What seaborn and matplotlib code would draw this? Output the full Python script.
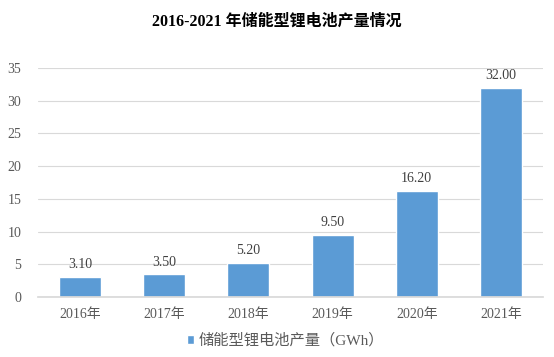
import matplotlib
matplotlib.use("Agg")
import matplotlib.pyplot as plt
import seaborn as sns
import pandas as pd

# %% data
years = ["2016年", "2017年", "2018年", "2019年", "2020年", "2021年"]
output_gwh = [3.10, 3.50, 5.20, 9.50, 16.20, 32.00]
series_name = "储能型锂电池产量（GWh）"

df = pd.DataFrame({"year": years, "value": output_gwh, "series": series_name})

# %% style
sns.set_theme(style="white")
plt.rcParams['font.family'] = ['Liberation Serif', 'Noto Sans CJK SC', 'DejaVu Sans']

fig = plt.figure(figsize=(5.54, 3.57), dpi=100)
ax = fig.add_axes([0.0686, 0.168, 0.9114, 0.6415])

sns.barplot(data=df, x="year", y="value", hue="series", palette=["#5B9BD5"],
            width=0.5, ax=ax, legend=True, saturation=1)

ax.set_ylim(0, 35)
ax.set_yticks(range(0, 36, 5))
ax.yaxis.grid(True, color="#D9D9D9", linewidth=0.8)
ax.set_axisbelow(True)
for s in ["top", "right", "left"]:
    ax.spines[s].set_visible(False)
ax.spines["bottom"].set_color("#D9D9D9")
ax.tick_params(axis="both", length=0, labelsize=10, colors="#595959", pad=8)
ax.tick_params(axis="y", pad=12)
ax.set_xlabel("")
ax.set_ylabel("")

for c in ax.containers:
    ax.bar_label(c, labels=[f"{v:.2f}" for v in output_gwh], padding=4,
                 fontsize=10, color="#404040")

fig.text(0.5, 0.94, "2016-2021 年储能型锂电池产量情况", ha="center", va="center",
         fontsize=11.5, fontweight="bold", color="black")

leg = ax.legend(loc="center", bbox_to_anchor=(0.5 - 0.01, -0.19), frameon=False,
                fontsize=11, handlelength=0.5, handleheight=0.5, handletextpad=0.3,
                labelcolor="#595959")

fig.savefig("out.png", dpi=100)
